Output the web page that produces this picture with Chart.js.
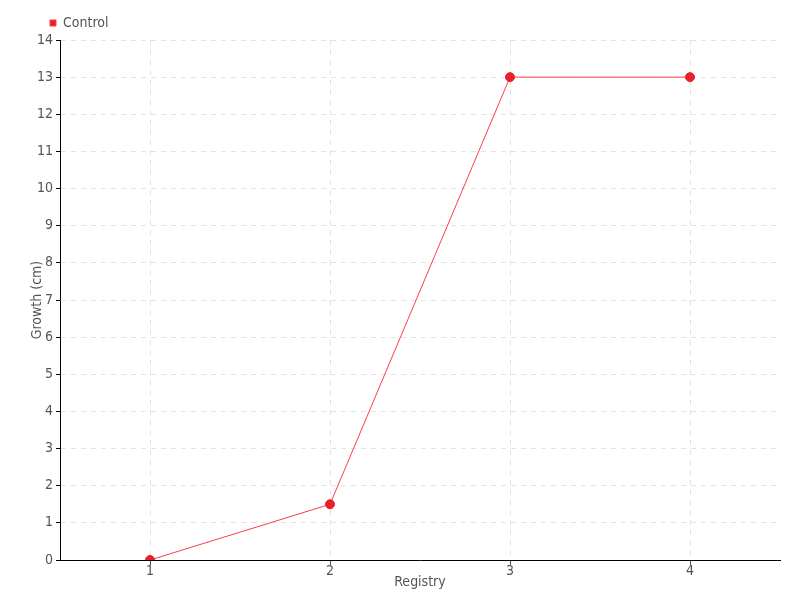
<!DOCTYPE html>
<html>
<head>
<meta charset="utf-8">
<script src="https://cdn.jsdelivr.net/npm/chart.js@4"></script>
<style>
  html, body { margin: 0; padding: 0; background: #fff; }
  #wrap { width: 800px; height: 600px; }
</style>
</head>
<body>
<div id="wrap"><canvas id="chart" width="800" height="600"></canvas></div>
<script>
// ── Data ──
const categories = ["1", "2", "3", "4"];
const controlValues = [0, 1.5, 13, 13];
const yTicks = [0, 1, 2, 3, 4, 5, 6, 7, 8, 9, 10, 11, 12, 13, 14];

// ── Styles ──
const FONT = "'Liberation Sans Narrow','DejaVu Sans Condensed',sans-serif";
const TEXT = "#555";
const RED = "#e8202e";
const GRID = "#e3e3e3";

// push the legend over so it sits above the y axis
const legendShift = {
  id: "legendShift",
  afterLayout(chart) {
    if (chart.legend) {
      chart.legend.left += 40;
      chart.legend.right += 40;
      if (chart.legend.legendHitBoxes) chart.legend.legendHitBoxes.forEach(b => { b.left += 40; });
    }
  }
};

new Chart(document.getElementById("chart"), {
  type: "line",
  data: {
    labels: categories,
    datasets: [{
      label: "Control",
      data: controlValues,
      borderColor: "#ff3b4a",
      borderWidth: 1,
      backgroundColor: RED,
      pointBackgroundColor: RED,
      pointBorderColor: RED,
      pointRadius: 4.5,
      tension: 0,
      fill: false
    }]
  },
  options: {
    responsive: false,
    animation: false,
    layout: { padding: { left: 0, right: 20, top: 6, bottom: 0 } },
    plugins: {
      legend: {
        align: "start",
        labels: {
          color: TEXT,
          font: { family: FONT, size: 14 },
          boxWidth: 6,
          boxHeight: 6,
          padding: 10
        }
      },
      tooltip: { enabled: false }
    },
    scales: {
      x: {
        offset: true,
        title: { display: true, text: "Registry", color: TEXT, font: { family: FONT, size: 14 }, padding: { top: 9, bottom: 9 } },
        ticks: { color: TEXT, font: { family: FONT, size: 14 }, padding: -2 },
        grid: { color: GRID, tickColor: "#555", tickLength: 5 },
        border: { color: "#000", width: 1, dash: [5, 5] },
        afterFit(scale) { scale.height = 40; }
      },
      y: {
        min: 0,
        max: 14,
        afterBuildTicks(scale) { scale.ticks = yTicks.map(v => ({ value: v })); },
        title: { display: true, text: "Growth (cm)", color: TEXT, font: { family: FONT, size: 14 }, padding: { top: 29, bottom: 29 } },
        ticks: { color: TEXT, font: { family: FONT, size: 14 }, padding: 3 },
        grid: { color: GRID, tickColor: "#000", tickLength: 4 },
        border: { color: "#000", width: 1, dash: [5, 5] },
        afterFit(scale) { scale.width = 60; }
      }
    }
  },
  plugins: [legendShift]
});
</script>
</body>
</html>
